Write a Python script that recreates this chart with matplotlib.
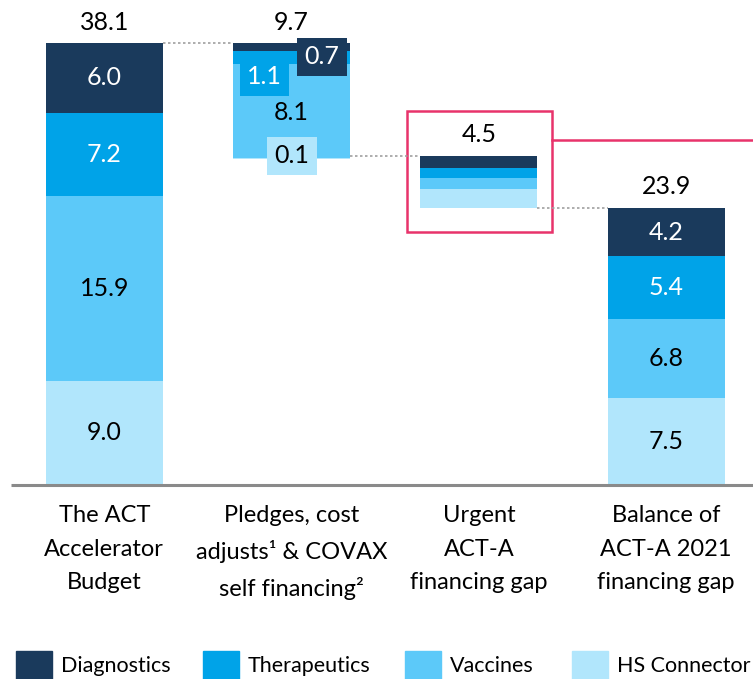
import matplotlib.pyplot as plt
from matplotlib.patches import Rectangle

# data
categories = ["The ACT\nAccelerator\nBudget",
              "Pledges, cost\nadjusts\u00b9 & COVAX\nself financing\u00b2",
              "Urgent\nACT-A\nfinancing gap",
              "Balance of\nACT-A 2021\nfinancing gap"]
segments = ["Diagnostics", "Therapeutics", "Vaccines", "HS Connector"]
budget = [6.0, 7.2, 15.9, 9.0]
pledges = [0.7, 1.1, 8.1, 0.1]
urgent = [1.1, 0.8, 1.0, 1.6]
balance = [4.2, 5.4, 6.8, 7.5]
totals = [38.1, 9.7, 4.5, 23.9]

colors = ["#1A3A5C", "#00A3E8", "#5CC9F9", "#B1E6FC"]
text_colors = ["white", "white", "black", "black"]
RED = "#E8336B"
GREY = "#8A8A8A"

plt.rcParams["font.family"] = ["Lato", "DejaVu Sans"]

W, H = 753, 679
fig = plt.figure(figsize=(W / 100, H / 100), dpi=100)
px_unit = 11.6
base_px = 485
ax = fig.add_axes([0, (H - base_px) / H, 1, base_px / H])
x0_px, step_px = 104.3, 187.3
ax.set_xlim(-x0_px / step_px, (W - x0_px) / step_px)
ax.set_ylim(0, base_px / px_unit)
ax.axis("off")

bw = 117 / step_px
fs = 18


def stack(x, values, top, labels=True):
    # draw segments from the top downwards; returns bottom
    y = top
    for i, v in enumerate(values):
        ax.bar(x, -v, bottom=y, width=bw, color=colors[i], align="center")
        if labels:
            ax.text(x, y - v / 2, f"{v:.1f}", ha="center", va="center",
                    color=text_colors[i], fontsize=fs)
        y -= v
    return y


# bar 1: full budget
stack(0, budget, sum(budget))
# bar 4: balance
stack(3, balance, sum(balance))
# bar 2: pledges hanging from the budget top
b2_top = totals[0]
stack(1, pledges, b2_top, labels=False)
b2_bottom = totals[0] - totals[1]
# bar 3: urgent gap sitting on the balance
b3_top = totals[3] + sum(urgent)
stack(2, urgent, b3_top, labels=False)

# labels for bar 2 (boxed, offset)
box_pos = [(1.16, 36.9), (0.855, 35.2), (1.0, 32.1), (1.0, 28.4)]
for i, v in enumerate(pledges):
    bx, by = box_pos[i]
    bbox = None
    if i != 2:
        bbox = dict(boxstyle="square,pad=0.3", fc=colors[i], ec="none")
    ax.text(bx, by, f"{v:.1f}", ha="center", va="center", color=text_colors[i],
            fontsize=fs, bbox=bbox)

# totals above bars
tops = [totals[0], totals[0], b3_top, totals[3]]
for i, t in enumerate(totals):
    ax.text(i, tops[i] + 1.8, f"{t:.1f}", ha="center", va="center",
            fontsize=fs, color="black")

# dotted connectors
conn = [(0, 1, totals[0]), (1, 2, b2_bottom), (2, 3, totals[3])]
for a, b, y in conn:
    ax.plot([a + bw / 2, b - bw / 2], [y, y], ls=(0, (1.5, 1.5)), color="#A0A0A0",
            lw=1.2)

# baseline
ax.plot([-0.5, 3.6], [0, 0], color=GREY, lw=2.2, clip_on=False, solid_capstyle="butt")

# red highlight box
ax.add_patch(Rectangle((1.614, 21.8), 0.777, 10.4, fill=False, ec=RED, lw=1.8))
ax.plot([2.391, 3.6], [29.7, 29.7], color=RED, lw=1.8)

# category labels
for i, c in enumerate(categories):
    ax.text(i, -1.75, c, ha="center", va="top", fontsize=17, linespacing=1.72)

# legend
leg_sq = [16, 203, 405, 572]
for i, s in enumerate(segments):
    fig.add_artist(Rectangle((leg_sq[i] / W, 0), 36 / W, 28 / H, color=colors[i],
                             transform=fig.transFigure))
    fig.text((leg_sq[i] + 45) / W, 13 / H, s, ha="left", va="center", fontsize=15.5)

fig.savefig("out.png", dpi=100)
